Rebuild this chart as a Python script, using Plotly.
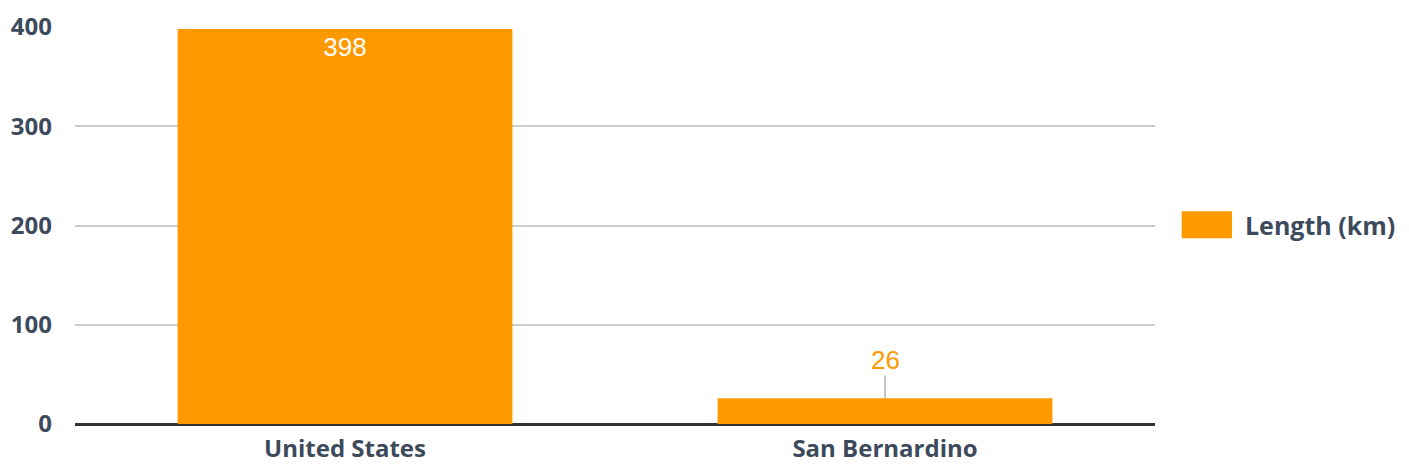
import plotly.graph_objects as go

categories = ["United States", "San Bernardino"]
lengths_km = [398, 26]
series_name = "Length (km)"
y_ticks = [0, 100, 200, 300, 400]

ORANGE = "#ff9900"
TEXT = "#3d4a5c"
FONT = "Open Sans"
LABEL_FONT = "Liberation Sans, Arial"

fig = go.Figure()
fig.add_trace(go.Bar(
    x=categories,
    y=lengths_km,
    name=series_name,
    marker=dict(color=ORANGE, line=dict(width=0)),
    text=[str(lengths_km[0]), ""],
    textposition=["inside", "none"],
    insidetextanchor="end",
    textfont=dict(family=LABEL_FONT, size=26, color="white"),
    showlegend=False,
    hoverinfo="skip",
))

# value label above the short bar, joined by a thin leader line
fig.add_annotation(
    x=categories[1], y=lengths_km[1], xref="x", yref="y",
    text=str(lengths_km[1]),
    showarrow=True, arrowhead=0, arrowwidth=1, arrowcolor="#888888",
    ax=0, ay=-38, standoff=0, borderpad=0,
    font=dict(family=LABEL_FONT, size=26, color=ORANGE),
)

# legend swatch and label
fig.add_shape(type="rect", xref="paper", yref="paper",
              x0=1.0247, x1=1.0713, y0=0.468, y1=0.536,
              fillcolor=ORANGE, line=dict(width=0))
fig.add_annotation(x=1.0815, y=0.502, xref="paper", yref="paper",
                   xanchor="left", yanchor="middle", showarrow=False,
                   text="<b>" + series_name + "</b>",
                   font=dict(family=FONT, size=25, color=TEXT))

fig.update_layout(
    width=1409, height=470,
    margin=dict(l=75, r=254, t=27, b=46),
    paper_bgcolor="white", plot_bgcolor="white",
    bargap=0.38,
    showlegend=False,
    font=dict(family=FONT, color=TEXT),
)
fig.update_xaxes(
    automargin=False,
    showgrid=False, showline=False, ticks="", ticklabelstandoff=8,
    tickfont=dict(family=FONT, size=24, color=TEXT, weight="bold"),
)
fig.update_yaxes(
    automargin=False,
    range=[0, 400], tickvals=y_ticks,
    showgrid=True, gridcolor="#cccccc", gridwidth=2,
    zeroline=True, zerolinecolor="#333333", zerolinewidth=3,
    ticks="", ticklabelstandoff=22,
    tickfont=dict(family=FONT, size=24, color=TEXT, weight="bold"),
)

fig.write_html("out.html")
